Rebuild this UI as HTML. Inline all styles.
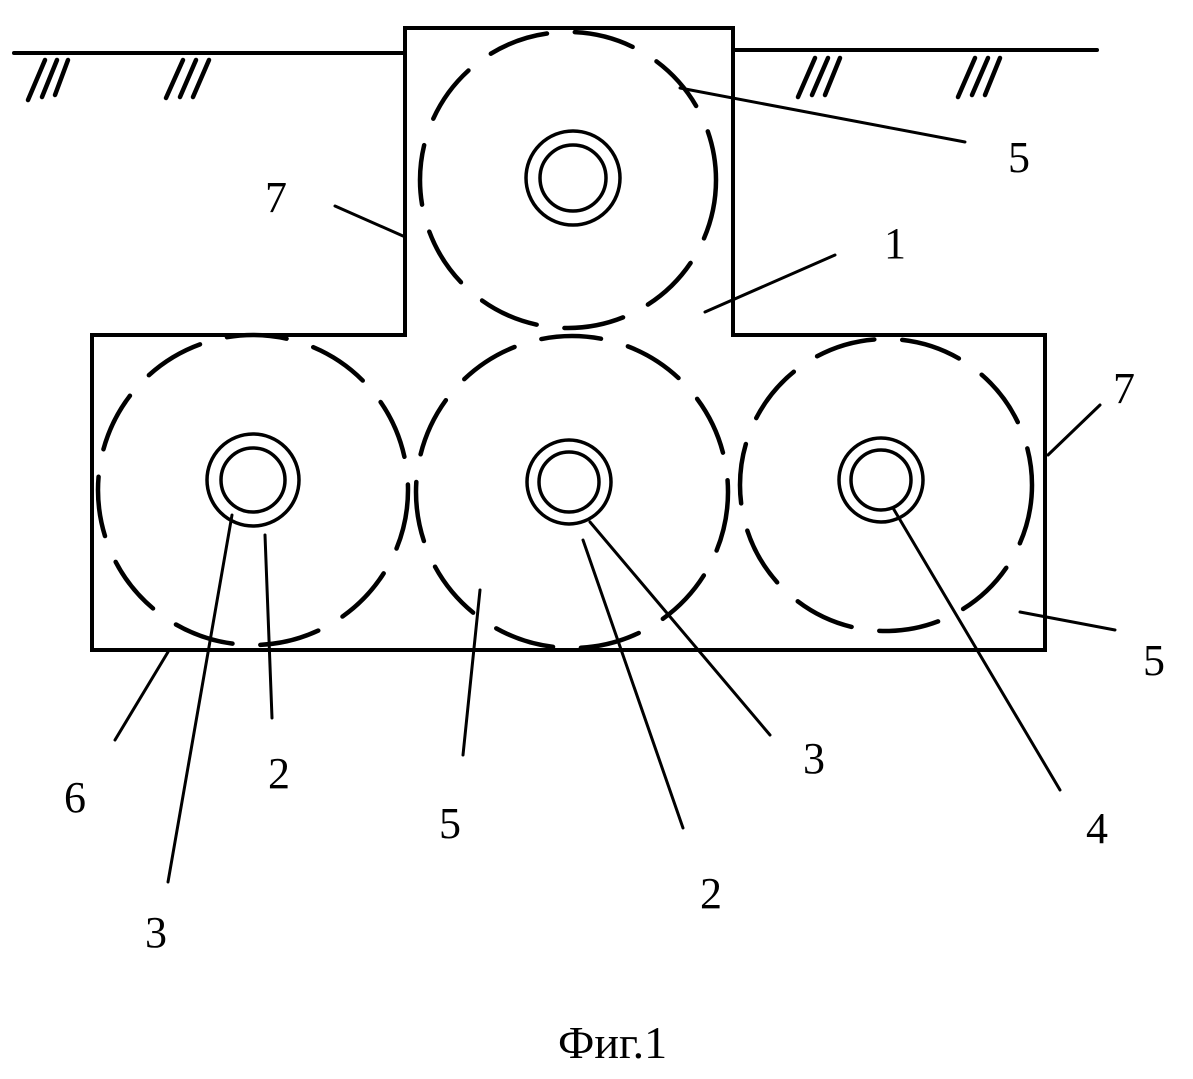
<!DOCTYPE html>
<html><head><style>body{margin:0;background:#fff}svg{display:block}</style></head><body>
<svg width="1193" height="1079" viewBox="0 0 1193 1079" xmlns="http://www.w3.org/2000/svg">
<g fill="none" stroke="#000" stroke-linecap="round">
<line x1="14" y1="53" x2="405" y2="53" stroke-width="4"/>
<line x1="733" y1="50" x2="1097" y2="50" stroke-width="4"/>
<g stroke-width="4.5">
<line x1="45" y1="60" x2="28" y2="100"/><line x1="57" y1="60" x2="42" y2="97"/><line x1="68" y1="60" x2="55" y2="95"/>
<line x1="183" y1="60" x2="166" y2="98"/><line x1="196" y1="60" x2="180" y2="97"/><line x1="209" y1="60" x2="193" y2="97"/>
<line x1="815" y1="58" x2="798" y2="97"/><line x1="828" y1="58" x2="812" y2="95"/><line x1="840" y1="58" x2="825" y2="95"/>
<line x1="975" y1="58" x2="958" y2="97"/><line x1="988" y1="58" x2="972" y2="95"/><line x1="1000" y1="58" x2="985" y2="95"/>
</g>
<path d="M405 335 V28 H733 V335 H1045 V650 H92 V335 Z" stroke-width="4" stroke-linecap="butt"/>
<g stroke-width="4.5" stroke-dasharray="60 28">
<circle cx="568" cy="180" r="148"/>
<circle cx="253" cy="490" r="155"/>
<circle cx="572" cy="492" r="156"/>
<circle cx="886" cy="485" r="146"/>
</g>
<g stroke-width="3.5">
<circle cx="573" cy="178" r="47"/><circle cx="573" cy="178" r="33"/>
<circle cx="253" cy="480" r="46"/><circle cx="253" cy="480" r="32"/>
<circle cx="569" cy="482" r="42"/><circle cx="569" cy="482" r="30"/>
<circle cx="881" cy="480" r="42"/><circle cx="881" cy="480" r="30"/>
</g>
<g stroke-width="3">
<line x1="680" y1="88" x2="965" y2="142"/>
<line x1="335" y1="206" x2="403" y2="236"/>
<line x1="705" y1="312" x2="835" y2="255"/>
<line x1="1048" y1="455" x2="1100" y2="405"/>
<line x1="1020" y1="612" x2="1115" y2="630"/>
<line x1="115" y1="740" x2="168" y2="652"/>
<line x1="265" y1="535" x2="272" y2="718"/>
<line x1="232" y1="515" x2="168" y2="882"/>
<line x1="480" y1="590" x2="463" y2="755"/>
<line x1="583" y1="540" x2="683" y2="828"/>
<line x1="590" y1="522" x2="770" y2="735"/>
<line x1="893" y1="508" x2="1060" y2="790"/>
</g>
</g>
<g font-family="Liberation Serif, serif" font-size="44" fill="#000">
<text x="1008" y="172">5</text>
<text x="265" y="212">7</text>
<text x="884" y="258">1</text>
<text x="1113" y="403">7</text>
<text x="1143" y="675">5</text>
<text x="64" y="812">6</text>
<text x="268" y="788">2</text>
<text x="145" y="947">3</text>
<text x="439" y="838">5</text>
<text x="700" y="908">2</text>
<text x="803" y="773">3</text>
<text x="1086" y="843">4</text>
<text x="558" y="1058" font-size="46">Фиг.1</text>
</g>
</svg>
</body></html>
